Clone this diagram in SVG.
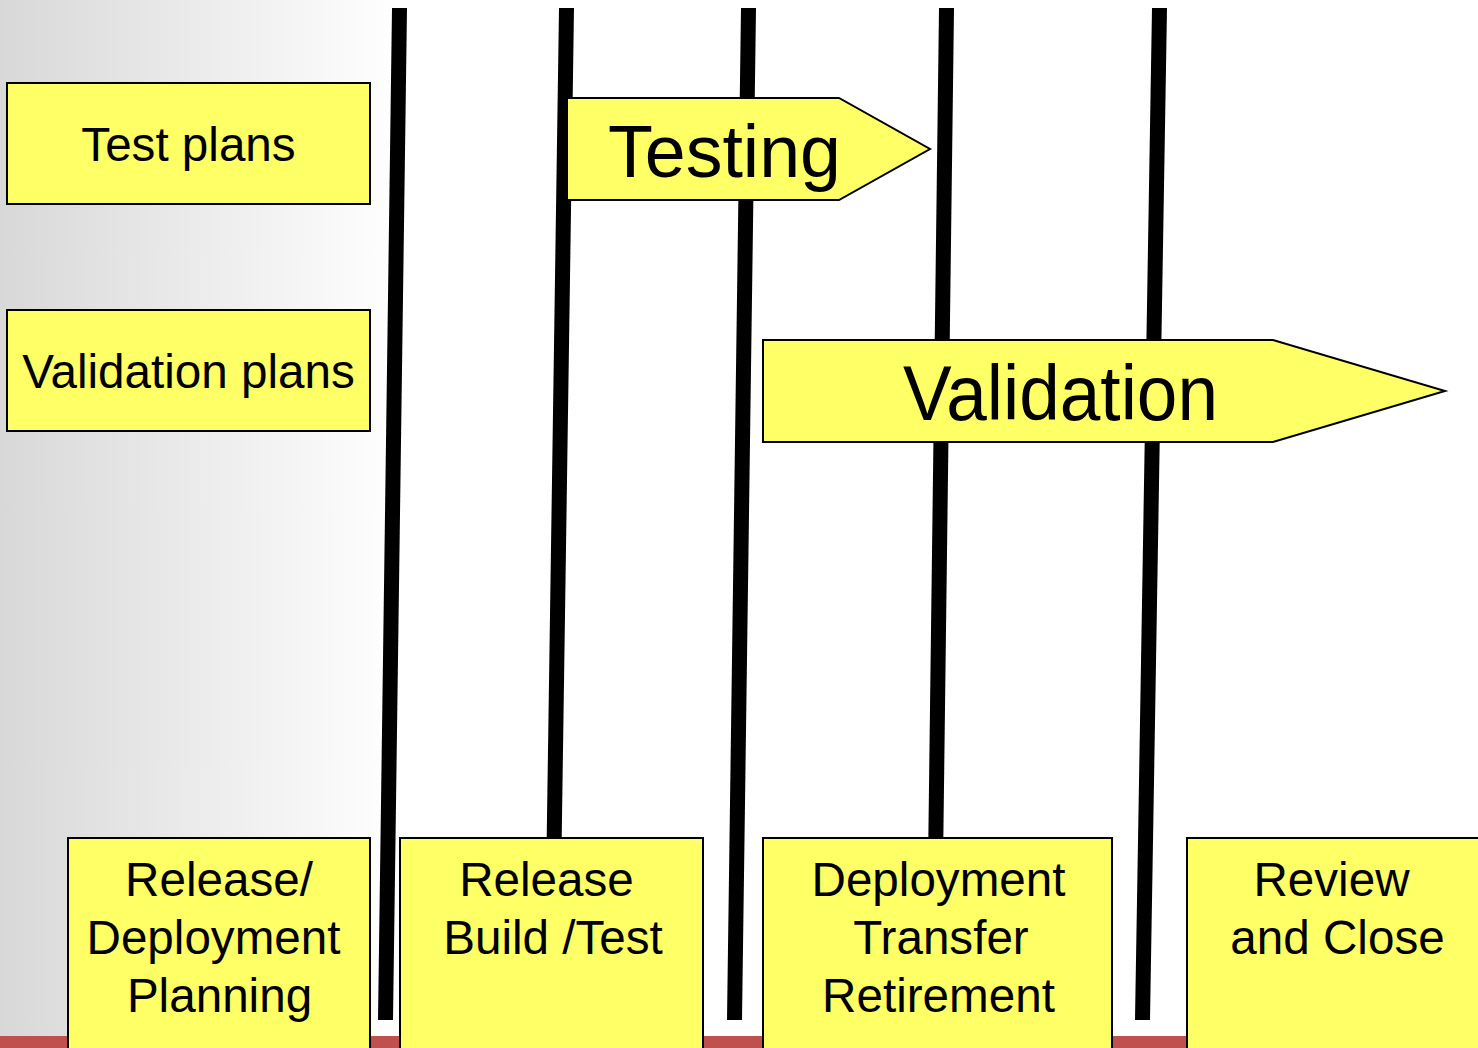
<svg xmlns="http://www.w3.org/2000/svg" width="1478" height="1048" viewBox="0 0 1478 1048">
  <defs>
    <linearGradient id="bgFade" x1="0" y1="0" x2="1" y2="0">
      <stop offset="0" stop-color="#d8d8d8"/>
      <stop offset="1" stop-color="#ffffff"/>
    </linearGradient>
    <style>
      .box { fill: #ffff66; stroke: #000000; stroke-width: 2; }
      .bar { fill: #000000; }
      .lbl { font-family: "Liberation Sans", Arial, sans-serif; font-size: 47.6px; fill: #000000; text-anchor: middle; }
      .big { font-family: "Liberation Sans", Arial, sans-serif; fill: #000000; }
    </style>
  </defs>

  <!-- background: grey fade on the left, red band at the foot -->
  <rect x="0" y="0" width="1478" height="1048" fill="#ffffff"/>
  <rect x="0" y="0" width="400" height="1048" fill="url(#bgFade)"/>
  <rect x="0" y="1036" width="1478" height="12" fill="#c0504d"/>

  <!-- phase divider bars -->
  <g id="dividers">
    <polygon class="bar" points="392,8 407,8 393,1020 378,1020"/>
    <polygon class="bar" points="559,8 574,8 559,1020 544,1020"/>
    <polygon class="bar" points="741,8 756,8 742,1020 727,1020"/>
    <polygon class="bar" points="939,8 954,8 941,1020 926,1020"/>
    <polygon class="bar" points="1152,8 1167,8 1150,1020 1135,1020"/>
  </g>

  <g id="test-plans">
    <rect class="box" x="7" y="83" width="363" height="121"/>
    <text class="lbl" x="188.5" y="161" font-size="46.5">Test plans</text>
  </g>

  <g id="validation-plans">
    <rect class="box" x="7" y="310" width="363" height="121"/>
    <text class="lbl" x="188.5" y="388" font-size="46.5">Validation plans</text>
  </g>

  <g id="testing">
    <polygon class="box" points="567,98 839,98 930,149 839,200 567,200"/>
    <text class="big" x="608" y="177" font-size="75" textLength="233" lengthAdjust="spacingAndGlyphs">Testing</text>
  </g>

  <g id="validation">
    <polygon class="box" points="763,340 1273,340 1445,391 1273,442 763,442"/>
    <text class="big" x="903" y="420" font-size="77" textLength="315" lengthAdjust="spacingAndGlyphs">Validation</text>
  </g>

  <g id="release-deployment-planning">
    <rect class="box" x="68" y="838" width="302" height="220"/>
    <text class="lbl" x="219" y="896">Release/</text>
    <text class="lbl" x="213.5" y="954">Deployment</text>
    <text class="lbl" x="219.5" y="1012">Planning</text>
  </g>

  <g id="release-build-test">
    <rect class="box" x="400" y="838" width="303" height="220"/>
    <text class="lbl" x="546.5" y="896">Release</text>
    <text class="lbl" x="553" y="954">Build /Test</text>
  </g>

  <g id="deployment-transfer-retirement">
    <rect class="box" x="763" y="838" width="349" height="220"/>
    <text class="lbl" x="938.5" y="896">Deployment</text>
    <text class="lbl" x="941" y="954">Transfer</text>
    <text class="lbl" x="938.5" y="1012">Retirement</text>
  </g>

  <g id="review-and-close">
    <rect class="box" x="1187" y="838" width="300" height="220"/>
    <text class="lbl" x="1331.5" y="896">Review</text>
    <text class="lbl" x="1337.5" y="954">and Close</text>
  </g>
</svg>
